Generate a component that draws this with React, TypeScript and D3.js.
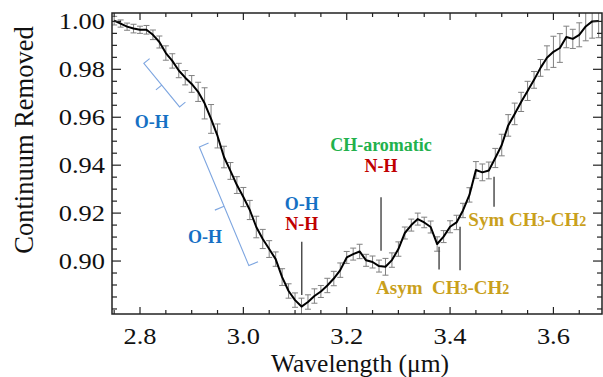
import React from "react";
import * as d3 from "d3";

// Continuum-removed reflectance spectrum with 1-sigma error bars
const wavelengths = [
  2.75, 2.7625, 2.775, 2.7875, 2.8, 2.8125, 2.825, 2.8375, 2.85, 2.8625,
  2.875, 2.8875, 2.9, 2.9125, 2.925, 2.9375, 2.95, 2.9625, 2.975, 2.9875,
  3.0, 3.0125, 3.025, 3.0375, 3.05, 3.0625, 3.075, 3.0875, 3.1, 3.1125,
  3.125, 3.1375, 3.15, 3.1625, 3.175, 3.1875, 3.2, 3.2125, 3.225, 3.2375,
  3.25, 3.2625, 3.275, 3.2875, 3.3, 3.3125, 3.325, 3.3375, 3.35, 3.3625,
  3.375, 3.3875, 3.4, 3.4125, 3.425, 3.4375, 3.45, 3.4625, 3.475, 3.4875,
  3.5, 3.5125, 3.525, 3.5375, 3.55, 3.5625, 3.575, 3.5875, 3.6, 3.6125,
  3.625, 3.6375, 3.65, 3.6625, 3.675, 3.6875,
];

const reflectance = [
  1.0003, 0.9991, 0.9978, 0.997, 0.9965, 0.9965, 0.9944, 0.9914, 0.9868, 0.9835,
  0.9795, 0.9765, 0.9739, 0.9706, 0.9658, 0.9593, 0.9522, 0.9434, 0.9376, 0.9317,
  0.9267, 0.9213, 0.9142, 0.9092, 0.905, 0.9008, 0.8933, 0.8875, 0.8837, 0.881,
  0.8829, 0.8854, 0.8873, 0.8898, 0.8927, 0.8962, 0.9015, 0.9029, 0.904, 0.9003,
  0.8996, 0.8979, 0.8976, 0.9004, 0.905, 0.9117, 0.915, 0.9175, 0.9161, 0.9142,
  0.9071, 0.9102, 0.9143, 0.9161, 0.9211, 0.9276, 0.938, 0.937, 0.9378, 0.943,
  0.9484, 0.9566, 0.9614, 0.9664, 0.971, 0.9756, 0.9806, 0.9848, 0.9873, 0.9889,
  0.9935, 0.9927, 0.9944, 0.9979, 1.0, 1.0002,
];

const uncertainty = [
  0.0018, 0.0015, 0.0015, 0.0018, 0.0015, 0.0018, 0.002, 0.0025, 0.003, 0.003,
  0.003, 0.003, 0.0035, 0.004, 0.0065, 0.006, 0.005, 0.0045, 0.0035, 0.0035,
  0.004, 0.004, 0.0045, 0.004, 0.0035, 0.003, 0.0035, 0.003, 0.003, 0.0035,
  0.003, 0.003, 0.0025, 0.003, 0.003, 0.003, 0.0025, 0.0025, 0.003, 0.0025,
  0.0025, 0.0025, 0.0035, 0.003, 0.003, 0.0025, 0.0025, 0.0025, 0.0022, 0.0025,
  0.003, 0.0025, 0.0025, 0.003, 0.003, 0.003, 0.0035, 0.0035, 0.0035, 0.004,
  0.0045, 0.0045, 0.0045, 0.004, 0.004, 0.0035, 0.0035, 0.005, 0.0065, 0.006,
  0.0045, 0.004, 0.005, 0.006, 0.007, 0.007,
];

const xTicks = [2.8, 3.0, 3.2, 3.4, 3.6];
const xTickLabels = ["2.8", "3.0", "3.2", "3.4", "3.6"];
const yTicks = [0.9, 0.92, 0.94, 0.96, 0.98, 1.0];
const yTickLabels = ["0.90", "0.92", "0.94", "0.96", "0.98", "1.00"];

// Band assignments: vertical marker lines
const markerLines = [
  { w: 3.113, y0: 0.9081, y1: 0.8858 },
  { w: 3.2664, y0: 0.9266, y1: 0.9043 },
  { w: 3.3787, y0: 0.906, y1: 0.8965 },
  { w: 3.4193, y0: 0.9143, y1: 0.8962 },
  { w: 3.4851, y0: 0.9352, y1: 0.9227 },
];

// Bracketed O-H ranges (start/end corners along the slope)
const brackets = [
  { w0: 2.8074, v0: 0.9825, w1: 2.8766, v1: 0.9643, tick: 7.5 },
  { w0: 2.9148, v0: 0.9476, w1: 3.0106, v1: 0.8981, tick: 10 },
];

const BLUE = "#1670c4";
const RED = "#c00000";
const GREEN = "#22b14c";
const GOLD = "#c9a01c";

const labels = [
  { text: "O-H", w: 2.8227, v: 0.9555, color: BLUE },
  { text: "O-H", w: 2.9258, v: 0.9075, color: BLUE },
  { text: "O-H", w: 3.1129, v: 0.9213, color: BLUE },
  { text: "N-H", w: 3.1129, v: 0.9128, color: RED },
  { text: "CH-aromatic", w: 3.2664, v: 0.9459, color: GREEN },
  { text: "N-H", w: 3.2664, v: 0.9371, color: RED },
];

const W = 603;
const H = 377;
const left = 112;
const right = 602;
const top = 13;
const bottom = 314;
const serif = "Liberation Serif, Tinos, Times New Roman, DejaVu Serif, serif";

export default function App() {
  const x = d3.scaleLinear().domain([2.7458, 3.694]).range([left, right]);
  const y = d3.scaleLinear().domain([0.8779, 1.0035]).range([bottom, top]);

  const pts = wavelengths.map((w, i) => [x(w), y(reflectance[i])] as [number, number]);
  const line = d3.line()(pts) || "";

  const xMinor = d3.range(2.75, 3.7, 0.05).filter((t) => !xTicks.some((m) => Math.abs(m - t) < 1e-6));
  const yMinor = d3.range(0.88, 1.0035, 0.005).filter((t) => !yTicks.some((m) => Math.abs(m - t) < 1e-6));

  const bracketPath = (b: (typeof brackets)[number]) => {
    const x0 = x(b.w0), y0 = y(b.v0), x1 = x(b.w1), y1 = y(b.v1);
    const len = Math.hypot(x1 - x0, y1 - y0);
    const ux = (x1 - x0) / len, uy = (y1 - y0) / len;
    const px = uy, py = -ux; // perpendicular pointing towards the curve
    const mx = (x0 + x1) / 2, my = (y0 + y1) / 2;
    const t = b.tick;
    return `M${x0 + px * t},${y0 + py * t}L${x0},${y0}L${x1},${y1}L${x1 + px * t},${y1 + py * t}` +
      `M${mx},${my}L${mx - px * t},${my - py * t}`;
  };

  const cap = 3;
  const serifStyle = { fontFamily: serif };

  return (
    <svg width={W} height={H} style={{ position: "absolute", left: 0, top: 0, background: "#fff" }}>
      <defs>
        <clipPath id="plotArea">
          <rect x={left} y={top} width={right - left} height={bottom - top} />
        </clipPath>
      </defs>
      <rect width={W} height={H} fill="#fff" />

      {/* error bars */}
      <g clipPath="url(#plotArea)" stroke="#808080" strokeWidth={1} fill="none">
        {wavelengths.map((w, i) => {
          const cx = x(w);
          const ya = y(reflectance[i] + uncertainty[i]);
          const yb = y(reflectance[i] - uncertainty[i]);
          return (
            <path key={i} d={`M${cx},${ya}V${yb}M${cx - cap},${ya}H${cx + cap}M${cx - cap},${yb}H${cx + cap}`} />
          );
        })}
      </g>

      {/* spectrum */}
      <path d={line} fill="none" stroke="#000" strokeWidth={2} strokeLinejoin="round" clipPath="url(#plotArea)" />

      {/* marker lines */}
      <g stroke="#444" strokeWidth={1.4}>
        {markerLines.map((m, i) => (
          <line key={i} x1={x(m.w)} x2={x(m.w)} y1={y(m.y0)} y2={y(m.y1)} />
        ))}
      </g>

      {/* brackets */}
      <g stroke="#7ea6e0" strokeWidth={1.1} fill="none">
        {brackets.map((b, i) => (
          <path key={i} d={bracketPath(b)} />
        ))}
      </g>

      {/* band labels */}
      <g style={serifStyle} fontWeight="bold" fontSize={18} textAnchor="middle">
        {labels.map((l, i) => (
          <text key={i} x={x(l.w)} y={y(l.v)} fill={l.color}>
            {l.text}
          </text>
        ))}
      </g>
      <g style={serifStyle} fontWeight="bold" fontSize={19} fill={GOLD}>
        <text x={x(3.2567)} y={y(0.8862)}>
          Asym{"\u00a0\u00a0"}CH<tspan fontSize={14}>3</tspan>-CH<tspan fontSize={14}>2</tspan>
        </text>
        <text x={x(3.4354)} y={y(0.9146)}>
          Sym CH<tspan fontSize={14}>3</tspan>-CH<tspan fontSize={14}>2</tspan>
        </text>
      </g>

      {/* frame */}
      <rect x={left} y={top} width={right - left} height={bottom - top} fill="none" stroke="#222" strokeWidth={1.5} />

      {/* ticks on all four sides */}
      <g stroke="#222" strokeWidth={1.2}>
        {xTicks.map((t) => (
          <g key={"xm" + t}>
            <line x1={x(t)} x2={x(t)} y1={bottom} y2={bottom - 7} />
            <line x1={x(t)} x2={x(t)} y1={top} y2={top + 7} />
          </g>
        ))}
        {xMinor.map((t) => (
          <g key={"xn" + t}>
            <line x1={x(t)} x2={x(t)} y1={bottom} y2={bottom - 4} />
            <line x1={x(t)} x2={x(t)} y1={top} y2={top + 4} />
          </g>
        ))}
        {yTicks.map((t) => (
          <g key={"ym" + t}>
            <line x1={left} x2={left + 9} y1={y(t)} y2={y(t)} />
            <line x1={right} x2={right - 9} y1={y(t)} y2={y(t)} />
          </g>
        ))}
        {yMinor.map((t) => (
          <g key={"yn" + t}>
            <line x1={left} x2={left + 5} y1={y(t)} y2={y(t)} />
            <line x1={right} x2={right - 5} y1={y(t)} y2={y(t)} />
          </g>
        ))}
      </g>

      {/* tick labels */}
      <g style={serifStyle} fontSize={23} fill="#111">
        {xTicks.map((t, i) => (
          <text key={t} transform={`translate(${x(t)},344) scale(1.15,1)`} textAnchor="middle">
            {xTickLabels[i]}
          </text>
        ))}
        {yTicks.map((t, i) => (
          <text key={t} transform={`translate(105,${y(t) + 8}) scale(1.15,1)`} textAnchor="end">
            {yTickLabels[i]}
          </text>
        ))}
      </g>

      {/* axis titles */}
      <text x={360} y={372} textAnchor="middle" style={serifStyle} fontSize={25.5} fill="#111">
        Wavelength (μm)
      </text>
      <text
        transform={`translate(33,140) rotate(-90)`}
        textAnchor="middle"
        style={serifStyle}
        fontSize={26.5}
        fill="#111"
      >
        Continuum Removed
      </text>
    </svg>
  );
}
